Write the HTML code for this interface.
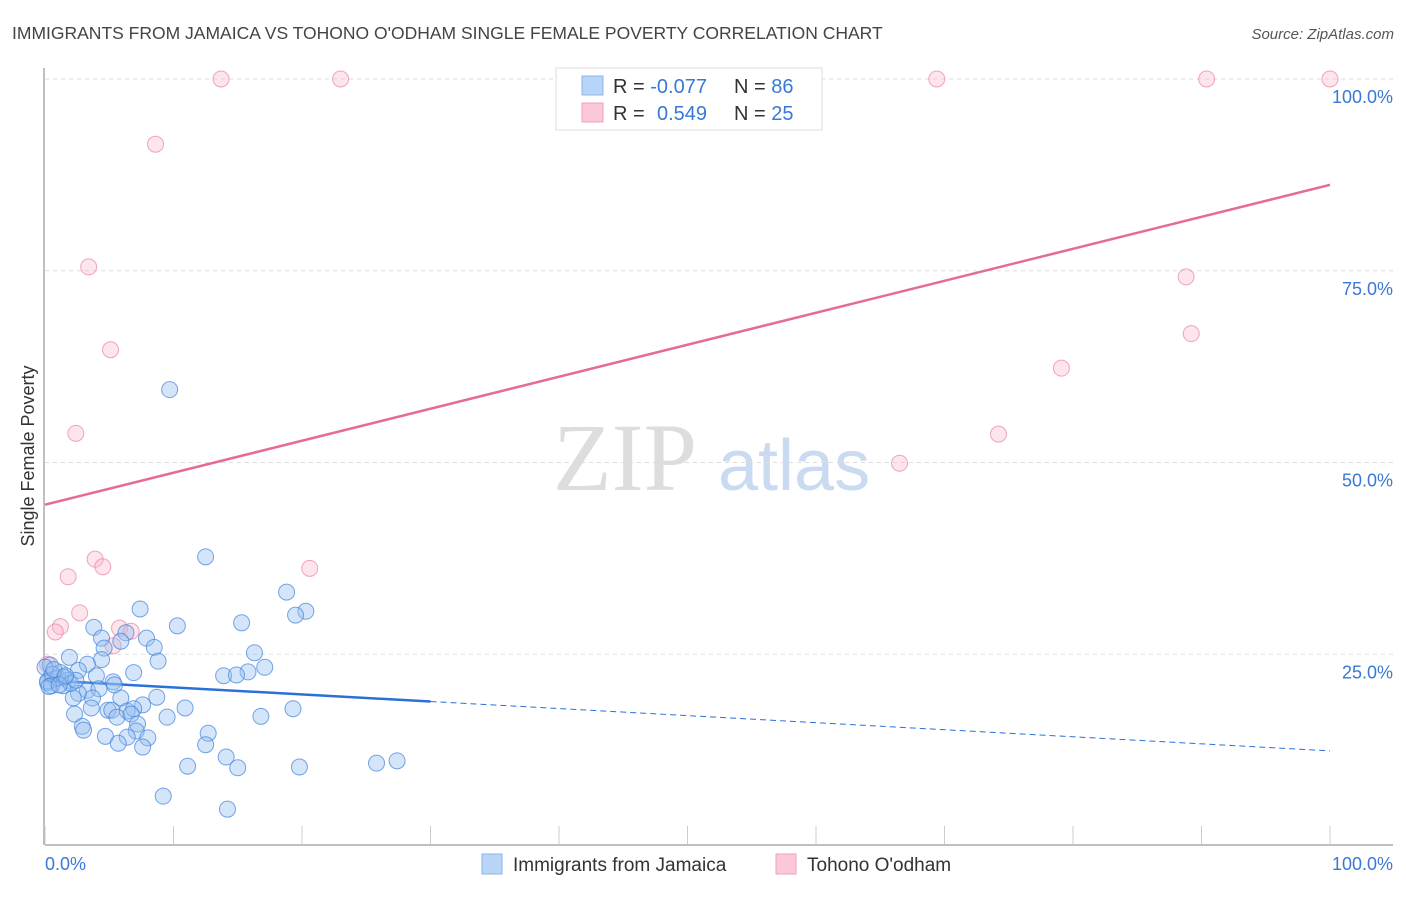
<!DOCTYPE html>
<html><head><meta charset="utf-8"><style>
body{margin:0;background:#fff;font-family:"Liberation Sans",sans-serif;}
</style></head><body>
<svg id="chart" width="1406" height="892" xmlns="http://www.w3.org/2000/svg" font-family="Liberation Sans, sans-serif">
<text x="12" y="39" font-size="17.5" fill="#444">IMMIGRANTS FROM JAMAICA VS TOHONO O'ODHAM SINGLE FEMALE POVERTY CORRELATION CHART</text>
<text x="1394" y="39" font-size="15" fill="#555" font-style="italic" text-anchor="end">Source: ZipAtlas.com</text>
<text transform="translate(34,456) rotate(-90)" font-size="18" fill="#333" text-anchor="middle">Single Female Poverty</text>
<g>
<text x="553" y="490" font-size="96" fill="#ddd" font-family="Liberation Serif, serif">ZIP</text>
<text x="718" y="490" font-size="72" fill="#c9daf1">atlas</text>
</g>
<g id="grid"></g><g id="axes"></g><g id="lines"></g><g id="pts"></g>
<g>
<rect x="556" y="68" width="266" height="62" fill="#fff" stroke="#ddd"/>
<rect x="582" y="76" width="21" height="19" fill="#b8d4f6" stroke="#8ab4ea"/>
<rect x="582" y="103" width="21" height="19" fill="#fbc8d8" stroke="#f2a0bb"/>
<text x="613" y="93" font-size="20" fill="#333">R = <tspan fill="#3a78d6">-0.077</tspan></text>
<text x="734" y="93" font-size="20" fill="#333">N = <tspan fill="#3a78d6">86</tspan></text>
<text x="613" y="120" font-size="20" fill="#333">R = <tspan fill="#3a78d6" x="657">0.549</tspan></text>
<text x="734" y="120" font-size="20" fill="#333">N = <tspan fill="#3a78d6">25</tspan></text>
</g>
<g>
<rect x="482" y="854" width="20" height="20" fill="#b8d4f6" stroke="#8ab4ea"/>
<text x="513" y="871" font-size="19" fill="#333">Immigrants from Jamaica</text>
<rect x="776" y="854" width="20" height="20" fill="#fbc8d8" stroke="#f2a0bb"/>
<text x="807" y="871" font-size="19" fill="#333">Tohono O'odham</text>
</g>
</svg>
<script>
const blueX=[9.7,12.5,7.4,18.8,20.3,19.5,3.8,10.3,15.3,6.3,4.4,7.9,5.9,4.6,8.5,16.3,1.9,4.4,8.8,17.1,0.4,3.3,2.6,6.9,15.8,13.9,14.9,1.2,4.0,0.8,1.8,0.2,5.3,5.4,1.4,3.3,4.2,2.6,8.7,2.2,3.7,5.9,10.9,7.6,3.6,4.9,5.2,6.4,6.9,19.3,2.3,5.6,6.7,9.5,16.8,7.2,2.9,3.0,7.1,12.7,4.7,6.4,8.0,5.7,7.6,12.5,14.1,11.1,15.0,19.8,25.8,27.4,9.2,14.2,0,0.2,0.5,1.0,0.6,1.5,2.0,0.3,1.1,2.4,0.7,1.6];
const blueY=[59.5,37.7,30.9,33.1,30.6,30.1,28.5,28.7,29.1,27.8,27.1,27.1,26.7,25.8,25.9,25.2,24.6,24.3,24.1,23.3,23.6,23.7,22.9,22.6,22.7,22.2,22.3,22.6,22.2,21.8,21.6,21.3,21.4,21.0,20.9,20.3,20.5,19.9,19.4,19.3,19.3,19.3,18.0,18.4,18.0,17.7,17.7,17.6,17.9,17.9,17.2,16.8,17.2,16.8,16.9,15.9,15.6,15.1,15.0,14.7,14.3,14.2,14.1,13.4,12.9,13.2,11.6,10.4,10.2,10.3,10.8,11.1,6.5,4.8,23.3,21.5,20.9,21.9,22.4,22.0,21.2,20.8,21.0,21.6,23.0,22.2];
const pinkX=[13.7,23.0,69.4,90.4,100,8.6,3.4,5.1,2.4,3.9,4.5,1.8,20.6,2.7,1.2,0.8,5.8,6.7,5.3,0.2,88.8,89.2,79.1,74.2,66.5];
const pinkY=[100,100,100,100,100,91.5,75.5,64.7,53.8,37.4,36.4,35.1,36.2,30.4,28.6,27.9,28.4,28.0,26.1,23.7,74.2,66.8,62.3,53.7,49.9];
const yTicks=[25,50,75,100];
const yTickLabels=["25.0%","50.0%","75.0%","100.0%"];
const xTicks=[0,10,20,30,40,50,60,70,80,90,100];
const blueTrend=[21.6,-0.092]; // intercept, slope
const pinkTrend=[44.5,0.417];
const X=v=>45+v*12.85, Y=v=>846-v*7.67;
const NS="http://www.w3.org/2000/svg";
function mk(t,a,p){const e=document.createElementNS(NS,t);for(const k in a)e.setAttribute(k,a[k]);p.appendChild(e);return e;}
const grid=document.getElementById('grid'),axes=document.getElementById('axes'),lines=document.getElementById('lines'),pts=document.getElementById('pts');
yTicks.forEach((t,i)=>{
 const l=mk('line',{x1:45,x2:1393,y1:Y(t)+(t==100?0:0),y2:Y(t),stroke:'#ddd','stroke-dasharray':'4,4'},grid);
 
 
 const tx=mk('text',{x:1393,y:Y(t)+24,'font-size':18,fill:'#3a78d6','text-anchor':'end'},grid);
 tx.textContent=yTickLabels[i];
 
 
});
const ax=mk('line',{x1:45,x2:1393,y1:845,y2:845,stroke:'#aaa','stroke-width':1.5},axes);


const ay=mk('line',{x1:44,x2:44,y1:68,y2:845,stroke:'#aaa','stroke-width':1.5},axes);


xTicks.forEach(t=>{const l=mk('line',{x1:X(t),x2:X(t),y1:826,y2:845,stroke:'#ccc'},axes);
 
 });
const xl0=mk('text',{x:45,y:870,'font-size':18,fill:'#3a78d6'},axes);xl0.textContent='0.0%';


const xl1=mk('text',{x:1393,y:870,'font-size':18,fill:'#3a78d6','text-anchor':'end'},axes);xl1.textContent='100.0%';


pinkX.forEach((x,i)=>{const c=mk('circle',{cx:X(x),cy:Y(pinkY[i]),r:8,fill:'rgba(248,180,200,0.35)',stroke:'rgba(232,130,165,0.7)','stroke-width':1},pts);
 
 });
blueX.forEach((x,i)=>{const c=mk('circle',{cx:X(x),cy:Y(blueY[i]),r:8,fill:'rgba(150,190,240,0.4)',stroke:'rgba(60,130,220,0.7)','stroke-width':1},pts);
 
 });
const bt=v=>blueTrend[0]+blueTrend[1]*v, pt=v=>pinkTrend[0]+pinkTrend[1]*v;
const b1=mk('line',{x1:X(0),y1:Y(bt(0)),x2:X(30),y2:Y(bt(30)),stroke:'#2a70d8','stroke-width':2.5},lines);


const b2=mk('line',{x1:X(30),y1:Y(bt(30)),x2:X(100),y2:Y(bt(100)),stroke:'#2a70d8','stroke-width':1,'stroke-dasharray':'6,4'},lines);


const p1=mk('line',{x1:X(0),y1:Y(pt(0)),x2:X(100),y2:Y(pt(100)),stroke:'#e56b93','stroke-width':2.5},lines);


</script>
</body></html>
